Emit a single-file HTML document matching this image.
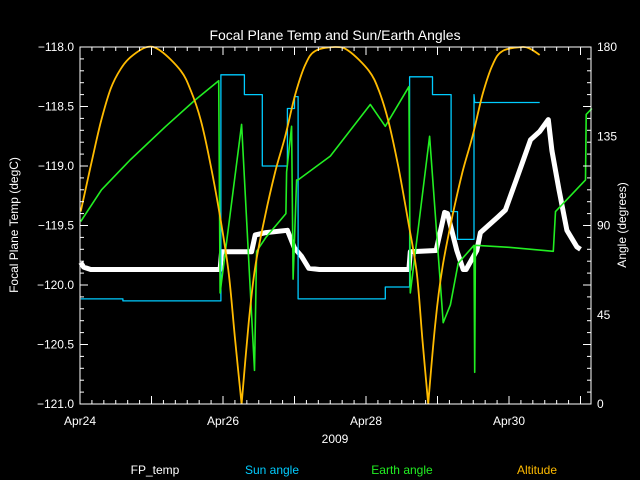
<!DOCTYPE html>
<html><head><meta charset="utf-8"><style>
html,body{margin:0;padding:0;background:#000;}
svg{display:block;font-family:"Liberation Sans","DejaVu Sans",sans-serif;}
</style></head><body>
<svg id="chart" width="640" height="480" viewBox="0 0 640 480" xmlns="http://www.w3.org/2000/svg">
<rect width="640" height="480" fill="#000"/>
<text x="335" y="40" fill="#fff" font-size="14" text-anchor="middle">Focal Plane Temp and Sun/Earth Angles</text>
<text transform="translate(18,225) rotate(-90)" fill="#fff" font-size="12" text-anchor="middle">Focal Plane Temp (degC)</text>
<text transform="translate(626,225) rotate(-90)" fill="#fff" font-size="12" text-anchor="middle">Angle (degrees)</text>
<text x="335" y="443" fill="#fff" font-size="12" text-anchor="middle">2009</text>
<g id="series"></g>
<g id="axes"></g>
<text x="155" y="474" fill="#fff" font-size="12" text-anchor="middle">FP_temp</text>
<text x="272" y="474" fill="#00ccff" font-size="12" text-anchor="middle">Sun angle</text>
<text x="402" y="474" fill="#22ee22" font-size="12" text-anchor="middle">Earth angle</text>
<text x="537" y="474" fill="#ffbb00" font-size="12" text-anchor="middle">Altitude</text>
</svg>
<script>
const xTickDays = [0, 2, 4, 6];
const xTickLabels = ["Apr24", "Apr26", "Apr28", "Apr30"];
const leftTicks = [-118.0, -118.5, -119.0, -119.5, -120.0, -120.5, -121.0];
const rightTicks = [180, 135, 90, 45, 0];

const altT = [0.01,0.15,0.29,0.43,0.57,0.71,0.94,1.13,1.41,1.55,1.69,1.83,1.97,2.08,2.17,2.26,2.36,2.45,2.59,2.73,2.87,3.01,3.15,3.29,3.57,3.76,4.04,4.18,4.31,4.45,4.59,4.71,4.79,4.87,4.97,5.07,5.21,5.35,5.49,5.63,5.77,5.91,6.19,6.30,6.43];
const altV = [97,120,142,159,169,175,180,178,168,158,143,120,92,66,32,0,41,69,95,117,135,156,171,178,180,178,168,158,143,120,92,66,32,0,41,69,95,117,135,156,171,178,180,179,176];

const sunT = [0.01,0.60,0.60,1.97,1.97,2.30,2.30,2.55,2.55,2.90,2.90,3.00,3.00,3.05,3.05,4.27,4.27,4.61,4.61,4.93,4.93,5.19,5.19,5.28,5.28,5.51,5.51,5.52,5.85,6.43];
const sunV = [53,53,52,52,166,166,156,156,120,120,149,149,155,155,53,53,59,59,165,165,156,156,97,97,83,83,156,152,152,152];

const earthT = [0.01,0.3,0.7,1.2,1.6,1.94,1.96,2.26,2.44,2.47,2.6,2.88,2.89,2.96,2.98,3.03,3.05,3.5,4.06,4.27,4.6,4.62,4.89,5.08,5.18,5.29,5.51,5.52,5.53,6.0,6.62,6.65,7.07,7.08,7.16];
const earthV = [92,108,123,140,153,163,56,141,17,77,84,96,117,140,63,113,113,125,151,140,160,56,135,41,50,71,80,16,80,79,77,97,113,146,149];

const fpT = [0.01,0.05,0.15,0.8,1.5,1.96,1.98,2.4,2.45,2.6,2.9,3.0,3.1,3.2,3.35,4.0,4.6,4.62,4.98,5.1,5.14,5.27,5.36,5.4,5.55,5.6,5.84,5.95,6.1,6.2,6.3,6.43,6.55,6.6,6.7,6.81,6.95,7.0];
const fpV = [-119.81,-119.85,-119.87,-119.87,-119.87,-119.87,-119.72,-119.72,-119.58,-119.56,-119.54,-119.69,-119.76,-119.86,-119.87,-119.87,-119.87,-119.72,-119.71,-119.39,-119.40,-119.71,-119.87,-119.87,-119.71,-119.56,-119.43,-119.37,-119.12,-118.95,-118.78,-118.71,-118.61,-118.87,-119.20,-119.54,-119.68,-119.70];

const X0 = 80, X1 = 591, Y0 = 47, Y1 = 404, PXD = 71.5;
function xs(d){ return X0 + d * PXD; }
function yl(v){ return Y0 + (-118 - v) / 3 * (Y1 - Y0); }
function yr(v){ return Y1 - v / 180 * (Y1 - Y0); }
const NS = "http://www.w3.org/2000/svg";
const series = document.getElementById('series');
const axes = document.getElementById('axes');

function line(g, x1, y1, x2, y2, name){
  const l = document.createElementNS(NS, 'line');
  l.setAttribute('x1', x1); l.setAttribute('y1', y1); l.setAttribute('x2', x2); l.setAttribute('y2', y2);
  l.setAttribute('stroke', '#fff'); l.setAttribute('stroke-width', '1');
  
  
  g.appendChild(l);
}
function text(x, y, s, anchor, name){
  const t = document.createElementNS(NS, 'text');
  t.setAttribute('x', x); t.setAttribute('y', y); t.setAttribute('fill', '#fff');
  t.setAttribute('font-size', '12'); t.setAttribute('text-anchor', anchor);
  t.textContent = s;
  
  
  axes.appendChild(t);
}
function poly(ts, vs, yf, color, w, name){
  const p = document.createElementNS(NS, 'polyline');
  p.setAttribute('points', ts.map((t, i) => xs(t).toFixed(1) + ',' + yf(vs[i]).toFixed(1)).join(' '));
  p.setAttribute('fill', 'none'); p.setAttribute('stroke', color); p.setAttribute('stroke-width', w);
  p.setAttribute('stroke-linejoin', 'round');
  
  
  series.appendChild(p);
}
function smooth(ts, vs, yf, color, w, name){
  const P = ts.map((t, i) => [xs(t), yf(vs[i])]);
  let d = 'M' + P[0][0].toFixed(1) + ',' + P[0][1].toFixed(1);
  for (let i = 0; i < P.length - 1; i++){
    const p0 = P[Math.max(0, i - 1)], p1 = P[i], p2 = P[i + 1], p3 = P[Math.min(P.length - 1, i + 2)];
    const sharp1 = vs[i] === 0, sharp2 = vs[i + 1] === 0;
    const c1 = sharp1 ? p1 : [p1[0] + (p2[0] - p0[0]) / 6, p1[1] + (p2[1] - p0[1]) / 6];
    const c2 = sharp2 ? p2 : [p2[0] - (p3[0] - p1[0]) / 6, p2[1] - (p3[1] - p1[1]) / 6];
    d += ' C' + c1[0].toFixed(1) + ',' + c1[1].toFixed(1) + ' ' + c2[0].toFixed(1) + ',' + c2[1].toFixed(1) + ' ' + p2[0].toFixed(1) + ',' + p2[1].toFixed(1);
  }
  const p = document.createElementNS(NS, 'path');
  p.setAttribute('d', d);
  p.setAttribute('fill', 'none'); p.setAttribute('stroke', color); p.setAttribute('stroke-width', w);
  
  
  series.appendChild(p);
}

const fr = document.createElementNS(NS, 'rect');
fr.setAttribute('x', X0); fr.setAttribute('y', Y0); fr.setAttribute('width', X1 - X0); fr.setAttribute('height', Y1 - Y0);
fr.setAttribute('fill', 'none'); fr.setAttribute('stroke', '#fff');


axes.appendChild(fr);

for (let k = 0; xs(k / 6) <= X1; k++){
  const x = xs(k / 6); const len = (k % 6 === 0) ? 8 : 4;
  line(axes, x, Y1, x, Y1 - len, 'x-tick');
  line(axes, x, Y0, x, Y0 + len, 'x-tick-top');
}
xTickDays.forEach((d, i) => text(xs(d), 425, xTickLabels[i], 'middle', 'x-tick-label'));
for (let k = 0; k <= 30; k++){
  const y = Y0 + k * (Y1 - Y0) / 30; const len = (k % 5 === 0) ? 8 : 4;
  line(axes, X0, y, X0 + len, y, 'left-y-tick');
}
leftTicks.forEach(v => text(74, yl(v) + 4, v.toFixed(1).replace('-', '\u2212'), 'end', 'left-y-tick-label'));
for (let k = 0; k <= 30; k++){
  const y = Y0 + k * (Y1 - Y0) / 30; const len = (k % 5 === 0) ? 8 : 4;
  line(axes, X1, y, X1 - len, y, 'right-y-tick');
}
rightTicks.forEach(v => text(597, yr(v) + 4, String(v), 'start', 'right-y-tick-label'));

poly(fpT, fpV, yl, '#fff', 5, 'fp-temp-series');
poly(sunT, sunV, yr, '#00ccff', 1.3, 'sun-angle-series');
poly(earthT, earthV, yr, '#22ee22', 1.6, 'earth-angle-series');
smooth(altT, altV, yr, '#ffbb00', 1.8, 'altitude-series');
</script>
</body></html>
